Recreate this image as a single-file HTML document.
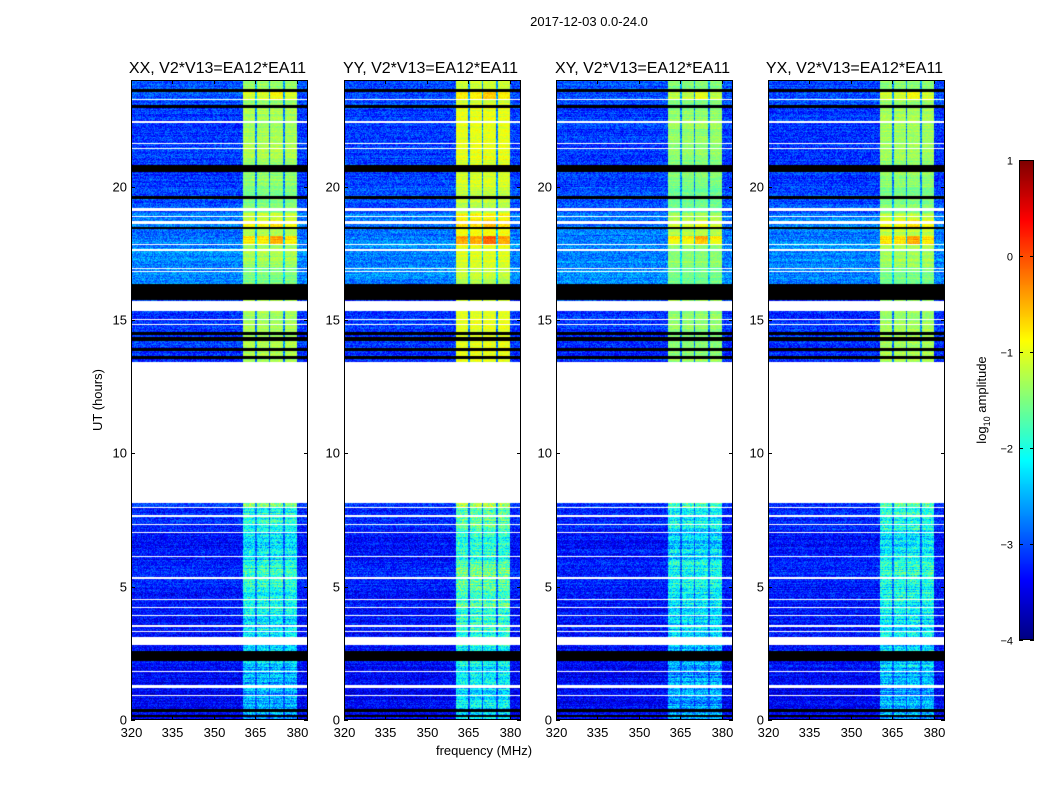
<!DOCTYPE html>
<html><head><meta charset="utf-8">
<style>
body{margin:0;background:#fff;width:1050px;height:800px;overflow:hidden;font-family:"Liberation Sans","DejaVu Sans",sans-serif}
#wrap{position:relative;width:1050px;height:800px}
canvas{position:absolute}
svg{position:absolute;left:0;top:0}
</style></head>
<body>
<div id="wrap">
<svg id="svg" width="1050" height="800"></svg>
</div>
<script>
// ---- data ----
const panelTitles = ["XX, V2*V13=EA12*EA11","YY, V2*V13=EA12*EA11","XY, V2*V13=EA12*EA11","YX, V2*V13=EA12*EA11"];
const panelOffset = [0, 0.3, -0.1, 0.0];
const xTicks = [320,335,350,365,380];
const yTicks = [0,5,10,15,20];
const cbTicks = [1,0,-1,-2,-3,-4];
const hourBase = [-3.4,-3.4,-3.3,-3.3,-3.3,-3.2,-3.3,-3.2,-3.1,-3.1,-3.1,-3.1,-3.1,-3.2,-3.1,-3.1,-2.7,-2.7,-2.8,-3.0,-3.1,-3.1,-3.1,-3.0];
const hourBand = [-2.5,-2.5,-2.3,-2.2,-2.1,-1.9,-2.2,-2.0,-1.6,-1.6,-1.6,-1.6,-1.6,-1.3,-1.3,-1.3,-1.5,-1.3,-1.2,-1.5,-1.4,-1.3,-1.3,-1.4];
const bandLo = [360.5,365.4,370.4,375.7];
const bandHi = [365.0,369.9,374.9,380.0];
const flagStart = [23.55,22.95,20.55,19.55,18.4,15.75,14.45,14.2,13.85,13.55,2.2,0.3,0.1];
const flagEnd   = [23.65,23.05,20.8,19.65,18.5,16.35,14.55,14.35,13.95,13.65,2.6,0.4,0.2];
const gapStart = [8.15,15.35,23.25,22.4,21.6,21.4,19.1,18.85,18.6,17.8,17.6,16.9,16.8,14.8,15.0,7.95,7.6,7.3,6.1,5.3,4.5,4.2,3.9,3.5,2.8,1.8,1.2,0.9,3.3,7.0];
const gapEnd   = [13.42,15.7,23.3,22.45,21.65,21.45,19.2,18.9,18.7,17.85,17.65,16.95,16.85,14.85,15.05,8.0,7.7,7.35,6.15,5.35,4.55,4.25,3.95,3.55,3.1,1.85,1.3,0.95,3.35,7.05];
const peakHours = [18.0,18.6,23.4];
const peakBoost = [0.8,0.4,0.5];

// ---- geometry ----
const panelX = [131,344,556,768], PW=177, PT=80, PH=640;
const fMin=320,fMax=384,hMin=0,hMax=24;
const xScale=(f,i)=>panelX[i]+(f-fMin)/(fMax-fMin)*PW;
const yScale=h=>PT+PH-(h-hMin)/(hMax-hMin)*PH;
const cbX=1019,cbW=15,cbT=160,cbH=480,vMin=-4,vMax=1;
const cbY=v=>cbT+(vMax-v)/(vMax-vMin)*cbH;

function jet(t){t=Math.max(0,Math.min(1,t));
 const r=Math.max(0,Math.min(1,1.5-Math.abs(4*t-3)));
 const g=Math.max(0,Math.min(1,1.5-Math.abs(4*t-2)));
 const b=Math.max(0,Math.min(1,1.5-Math.abs(4*t-1)));
 return [r*255|0,g*255|0,b*255|0];}
function hash(a,b){let n=a*374761393+b*668265263;n=(n^(n>>13))*1274126177;n=n^(n>>16);return ((n>>>0)%1000)/1000;}
function inAny(h,s,e){for(let k=0;k<s.length;k++) if(h>=s[k]&&h<e[k]) return true;return false;}

const wrap=document.getElementById('wrap');
for(let p=0;p<4;p++){
 const c=document.createElement('canvas');
 c.width=PW;c.height=PH;c.style.left=panelX[p]+'px';c.style.top=PT+'px';
 
 
 wrap.insertBefore(c,wrap.firstChild);
 const ctx=c.getContext('2d');const img=ctx.createImageData(PW,PH);
 for(let y=0;y<PH;y++){
  const h=hMax-(y+0.5)/PH*(hMax-hMin);
  const hi=Math.min(23,Math.floor(h));
  const gap=inAny(h,gapStart,gapEnd), flag=inAny(h,flagStart,flagEnd);
  let pk=0;for(let k=0;k<peakHours.length;k++) if(Math.abs(h-peakHours[k])<0.15) pk=peakBoost[k];
  const rowN=(hash(y,p*7+3)-0.5)*0.5;
  const lower=h<9;
  for(let x=0;x<PW;x++){
   const idx=(y*PW+x)*4;let col;
   if(gap){col=[255,255,255];}
   else if(flag){col=[0,0,0];}
   else{
    const f=fMin+(x+0.5)/PW*(fMax-fMin);
    let v=hourBase[hi]+rowN*0.6+(hash(x+p*997,y)-0.5)*0.7;
    if(f>=bandLo[0]&&f<bandHi[3]) v+=0.4;
    for(let b=0;b<4;b++) if(f>=bandLo[b]&&f<bandHi[b]){
      v=hourBand[hi]+panelOffset[p]+rowN*(lower?1.2:0.5)+(hash(x,y+p*31)-0.5)*(lower?0.9:0.3)+(b==2?pk:pk*0.6);}
    col=jet((v-vMin)/(vMax-vMin));
   }
   img.data[idx]=col[0];img.data[idx+1]=col[1];img.data[idx+2]=col[2];img.data[idx+3]=255;
  }
 }
 ctx.putImageData(img,0,0);
}
// colorbar
const cb=document.createElement('canvas');cb.width=cbW;cb.height=cbH;cb.style.left=cbX+'px';cb.style.top=cbT+'px';


wrap.insertBefore(cb,wrap.firstChild);
{const ctx=cb.getContext('2d');for(let y=0;y<cbH;y++){const c=jet(1-y/cbH);ctx.fillStyle=`rgb(${c[0]},${c[1]},${c[2]})`;ctx.fillRect(0,y,cbW,1);}}

// ---- svg axes ----
const svg=document.getElementById('svg');const NS='http://www.w3.org/2000/svg';
function el(t,a,txt){const e=document.createElementNS(NS,t);for(const k in a)e.setAttribute(k,a[k]);if(txt!==undefined)e.textContent=txt;svg.appendChild(e);return e;}
let t;
t=el('text',{x:589,y:26,'font-size':13,'text-anchor':'middle'},'2017-12-03 0.0-24.0');


for(let p=0;p<4;p++){
 const x0=panelX[p];
 t=el('text',{x:x0+PW/2-2,y:73,'font-size':16,'text-anchor':'middle'},panelTitles[p]);
 
 
 const r=el('rect',{x:x0+0.5,y:PT+0.5,width:PW-1,height:PH-1,fill:'none',stroke:'#000','stroke-width':1});
 
 
 xTicks.forEach(v=>{const x=Math.round(xScale(v,p))+0.5;
  el('line',{x1:x,x2:x,y1:PT+PH,y2:PT+PH-4,stroke:'#000'});
  el('line',{x1:x,x2:x,y1:PT,y2:PT+4,stroke:'#000'});
  t=el('text',{x:x,y:PT+PH+17,'font-size':13,'text-anchor':'middle'},String(v));
  
  });
 yTicks.forEach(v=>{const y=Math.round(yScale(v))+0.5;
  el('line',{x1:x0,x2:x0+4,y1:y,y2:y,stroke:'#000'});
  el('line',{x1:x0+PW,x2:x0+PW-4,y1:y,y2:y,stroke:'#000'});
  t=el('text',{x:x0-4,y:y+4,'font-size':13,'text-anchor':'end'},String(v));
  
  });
}
t=el('text',{x:484,y:755,'font-size':13,'text-anchor':'middle'},'frequency (MHz)');


t=el('text',{x:102,y:400,'font-size':13,'text-anchor':'middle',transform:'rotate(-90 102 400)'},'UT (hours)');


el('rect',{x:cbX+0.5,y:cbT+0.5,width:cbW-1,height:cbH-1,fill:'none',stroke:'#000'});
cbTicks.forEach(v=>{const y=Math.round(cbY(v))+0.5;
 el('line',{x1:cbX,x2:cbX+4,y1:y,y2:y,stroke:'#000'});
 el('line',{x1:cbX+cbW,x2:cbX+cbW-4,y1:y,y2:y,stroke:'#000'});
 t=el('text',{x:1013,y:y+4,'font-size':11,'text-anchor':'end'},v<0?'\u2212'+(-v):String(v));
 
 });
const cl=el('text',{x:986,y:400,'font-size':13,'text-anchor':'middle',transform:'rotate(-90 986 400)'});


cl.innerHTML='log<tspan font-size="9" dy="4">10</tspan><tspan dy="-4"> amplitude</tspan>';
</script>
</body></html>
